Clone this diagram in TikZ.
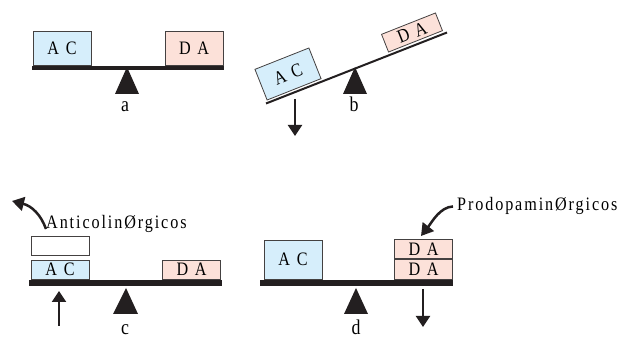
\documentclass[tikz,border=0pt]{standalone}
\usepackage{fontspec}
\usetikzlibrary{arrows.meta}
\newfontfamily\boxfont[FakeStretch=0.85,LetterSpace=35]{Liberation Serif}
\newfontfamily\drugfont[FakeStretch=0.85,LetterSpace=10]{Liberation Serif}
\newfontfamily\tagfont[FakeStretch=0.85]{Liberation Serif}
\definecolor{acblue}{RGB}{214,238,251}
\definecolor{dapink}{RGB}{252,225,217}
\definecolor{ink}{RGB}{35,31,32}

\begin{document}
\begin{tikzpicture}[x=1pt,y=-1pt,
  cargo/.style={draw=ink!85, line width=0.8pt, inner sep=0pt, minimum width=58pt,
    font={\boxfont\fontsize{19pt}{19pt}\selectfont}},
  ac/.style={cargo, fill=acblue},
  da/.style={cargo, fill=dapink},
  blank/.style={cargo, fill=white},
  beam/.style={draw=ink, line width=3.5pt},
  pivot/.style={fill=ink},
  tag/.style={anchor=base, inner sep=0pt, font={\tagfont\fontsize{21pt}{21pt}\selectfont}},
  drug/.style={inner sep=0pt, font={\drugfont\fontsize{19pt}{19pt}\selectfont}},
  push/.style={draw=ink, line width=2pt, -{Triangle[length=11pt,width=14pt]}},
  bendarrow/.style={draw=ink, line width=2.5pt, -{Triangle[length=12pt,width=14pt]}}]
  \useasboundingbox (0,0) rectangle (622,339);

  % a: balance at rest
  \node[ac, minimum height=34pt, anchor=south] (a-ac) at (62,66) {AC};
  \node[da, minimum height=34pt, anchor=south] (a-da) at (194,66) {DA};
  \draw[beam] (32,68) -- (224,68);
  \fill[pivot] (127,67) -- (139,94) -- (115,94) -- cycle;
  \node[tag] (a-tag) at (125,112) {a};

  % b: tilted towards AC
  \draw[beam, line width=2pt] (266,103.5) -- (447,32.5);
  \node[ac, minimum height=33pt, rotate=21.6] (b-ac) at (288,74) {AC};
  \node[da, minimum height=19pt, rotate=21.6] (b-da) at (412,32.5) {DA};
  \fill[pivot] (355,67) -- (367,94) -- (343,94) -- cycle;
  \node[tag] (b-tag) at (354,112) {b};
  \coordinate (b-from) at (295,99);
  \coordinate (b-to) at (295,136);
  \draw[push] (b-from) -- (b-to);

  % c: AC blocked
  \node[ac, minimum height=19pt, anchor=south] (c-ac) at (60,279.5) {AC};
  \node[blank, minimum height=19pt, anchor=south] (c-blank) at (60,256) {};
  \node[da, minimum height=19pt, anchor=south] (c-da) at (191.5,279.5) {DA};
  \draw[beam, line width=5.5pt] (29,283) -- (222,283);
  \fill[pivot] (126,288) -- (138,314) -- (113,314) -- cycle;
  \node[tag] (c-tag) at (125,335) {c};
  \coordinate (c-from) at (59,326);
  \coordinate (c-to) at (59,291);
  \draw[push] (c-from) -- (c-to);
  \node[drug, anchor=base west] (c-drug) at (46,229) {AnticolinØrgicos};
  \coordinate (c-tip) at (12,201);
  \draw[bendarrow] (c-drug.base west) .. controls (41,215) and (32,206) .. (c-tip);

  % d: DA doubled
  \node[ac, minimum height=39pt, anchor=south] (d-ac) at (293,279.5) {AC};
  \node[da, minimum height=19.5pt, anchor=south] (d-da1) at (423.5,279.5) {DA};
  \node[da, minimum height=19.5pt, anchor=south] (d-da2) at (d-da1.north) {DA};
  \draw[beam, line width=5.5pt] (260,283) -- (453,283);
  \fill[pivot] (356,288) -- (368,314) -- (344,314) -- cycle;
  \node[tag] (d-tag) at (356,335) {d};
  \coordinate (d-from) at (423,289);
  \coordinate (d-to) at (423,327);
  \draw[push] (d-from) -- (d-to);
  \node[drug, anchor=base west] (d-drug) at (457,211) {ProdopaminØrgicos};
  \coordinate (d-tip) at (421,236);
  \draw[bendarrow] ([xshift=-4pt]d-drug.west) .. controls (440,207) and (432,222) .. (d-tip);
\end{tikzpicture}
\end{document}
